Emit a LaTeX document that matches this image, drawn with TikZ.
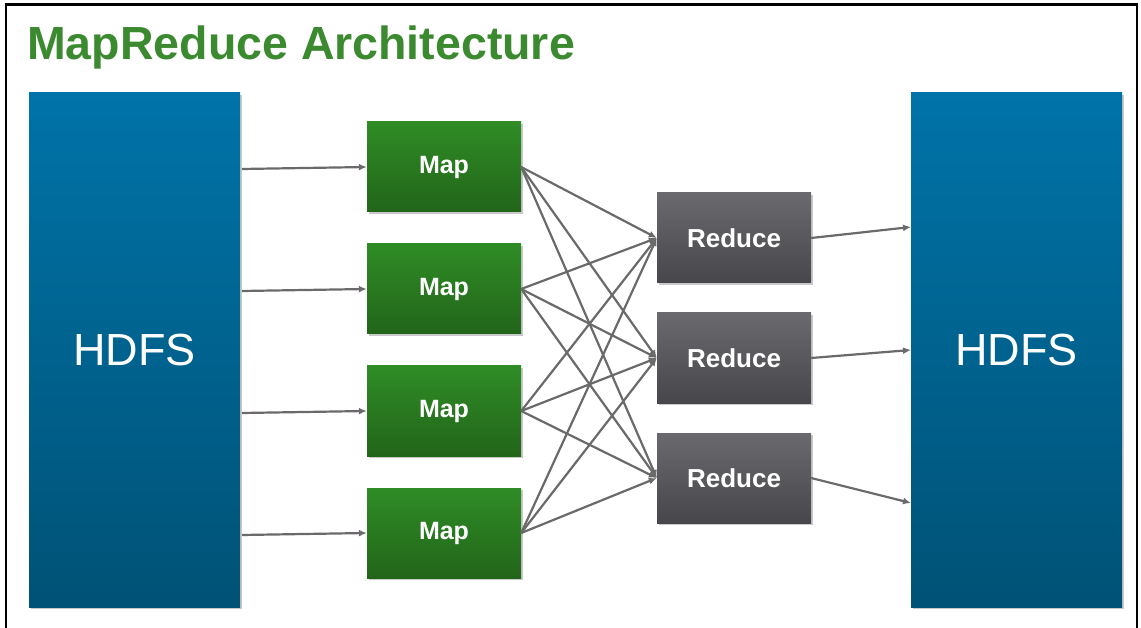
\documentclass[tikz,border=0pt]{standalone}
\usepackage{fontspec}
\setmainfont{Liberation Sans}
\usetikzlibrary{arrows.meta,shadows}
\definecolor{titlegreen}{HTML}{3B8A30}
\definecolor{hdfstop}{HTML}{0073A8}
\definecolor{hdfsbot}{HTML}{005276}
\definecolor{maptop}{HTML}{2F8C25}
\definecolor{mapbot}{HTML}{22651A}
\definecolor{redtop}{HTML}{6A696E}
\definecolor{redbot}{HTML}{47464B}
\definecolor{arrowgray}{HTML}{6A6A6A}
\tikzset{
  boxshadow/.style={drop shadow={shadow xshift=1.5pt,shadow yshift=-2pt,opacity=0.35,fill=black!60}},
  hdfsbox/.style={boxshadow,top color=hdfstop,bottom color=hdfsbot,draw=none,
    minimum width=211pt,minimum height=514pt,inner sep=0pt,text=white,
    font=\fontsize{45}{47}\selectfont},
  mapbox/.style={boxshadow,top color=maptop,bottom color=mapbot,draw=none,
    minimum width=154pt,minimum height=90pt,inner sep=0pt,text=white,
    font=\fontsize{25}{27}\bfseries\selectfont},
  redbox/.style={boxshadow,top color=redtop,bottom color=redbot,draw=none,
    minimum width=154pt,minimum height=90pt,inner sep=0pt,text=white,
    font=\fontsize{26}{28}\bfseries\selectfont},
  conn/.style={draw=arrowgray,line width=2.2pt,-{Latex[length=8pt,width=7pt]}},
  frameline/.style={draw=black,line width=2.5pt}
}
\begin{document}
\begin{tikzpicture}[x=1pt,y=-1pt]
\useasboundingbox (0,0) rectangle (1141,628);
\fill[white] (0,0) rectangle (1141,628);
\draw[frameline] (6,628) -- (6,4.5) -- (1137,4.5) -- (1137,628);
\node[anchor=base west,text=titlegreen,font=\fontsize{46.5}{48}\bfseries\selectfont,inner sep=0pt] (title) at (27,60) {MapReduce Architecture};

\node[hdfsbox] (hl) at (134.5,350) {HDFS};
\node[hdfsbox] (hr) at (1016.5,350) {HDFS};

\node[mapbox] (m1) at (444,167) {\raisebox{-2pt}{Map}};
\node[mapbox] (m2) at (444,289) {\raisebox{-2pt}{Map}};
\node[mapbox] (m3) at (444,411) {\raisebox{-2pt}{Map}};
\node[mapbox] (m4) at (444,533) {\raisebox{-2pt}{Map}};

\node[redbox] (r1) at (734,238) {Reduce};
\node[redbox] (r2) at (734,358) {Reduce};
\node[redbox] (r3) at (734,478) {Reduce};

\coordinate (s1) at (242,169);
\coordinate (s2) at (242,291);
\coordinate (s3) at (242,413);
\coordinate (s4) at (242,535);
\foreach \i in {1,2,3,4} \draw[conn] (s\i) -- (m\i.west);

\foreach \i in {1,2,3,4}
  \foreach \j in {1,2,3}
    \draw[conn] (m\i.east) -- (r\j.west);

\coordinate (t1) at (911,227);
\coordinate (t2) at (911,350);
\coordinate (t3) at (911,503);
\foreach \j in {1,2,3} \draw[conn] (r\j.east) -- (t\j);
\end{tikzpicture}
\end{document}
